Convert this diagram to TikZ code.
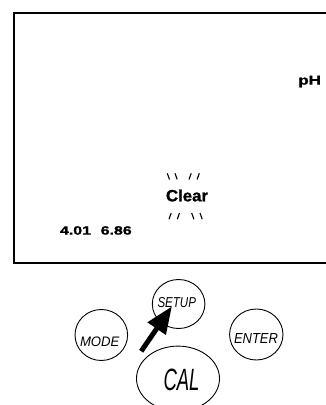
\documentclass[tikz,border=0pt]{standalone}
\usepackage{fontspec}
\setmainfont{Liberation Sans}
\newfontfamily\dispfont[FakeBold=1.2]{Liberation Sans Bold}
\newfontfamily\btnfont{Liberation Sans Italic}
\usepackage{graphicx}
\usetikzlibrary{arrows.meta,shapes.geometric}
\begin{document}
\begin{tikzpicture}[x=1pt,y=-1pt,
  txt/.style={inner sep=0pt, outer sep=0pt, anchor=base west},
  btn/.style={draw, line width=0.9pt, ellipse, inner sep=0pt},
  ray/.style={line width=1.1pt},
  frame/.style={line width=1.9pt}]
\useasboundingbox (0,0) rectangle (326,405);
% display frame (right side runs off the picture)
\draw[frame] (340,13.3) -- (13.7,13.3) -- (13.7,263.3) -- (340,263.3);
% display texts
\node[txt] (ph) at (298.3,84.6) {\resizebox{22.6pt}{9pt}{\dispfont pH}};
\node[txt] (bufa) at (60,234.6) {\resizebox{31pt}{8.4pt}{\dispfont 4.01}};
\node[txt] (bufb) at (100.7,234.6) {\resizebox{31pt}{8.4pt}{\dispfont 6.86}};
\node[txt] (clear) at (166,201.3) {\resizebox{42pt}{11.8pt}{\dispfont Clear}};
% blinking rays
\draw[ray] (167.3,173.3) -- (169.5,179.5);
\draw[ray] (175,173.3) -- (177.2,179.5);
\draw[ray] (191.2,173.3) -- (189,179.5);
\draw[ray] (199.3,173.3) -- (197.1,179.5);
\draw[ray] (171.2,213) -- (169,219.2);
\draw[ray] (179.5,213) -- (177.3,219.2);
\draw[ray] (191.7,213) -- (193.9,219.2);
\draw[ray] (200,213) -- (202.2,219.2);
% buttons
\node[btn, minimum width=52.6pt, minimum height=49pt] (setup) at (178.6,304) {};
\node[btn, minimum width=52.6pt, minimum height=51pt] (mode) at (101.3,335) {};
\node[btn, minimum width=53.4pt, minimum height=51pt] (enter) at (256.3,334.5) {};
\node[btn, minimum width=83pt, minimum height=65pt] (cal) at (178,378.6) {};
\node[txt] (setupl) at (157.5,307) {\resizebox{38.5pt}{10pt}{\btnfont SETUP}};
\node[txt] (model) at (80,346) {\resizebox{39.4pt}{9.6pt}{\btnfont MODE}};
\node[txt] (enterl) at (234,343) {\resizebox{44pt}{10pt}{\btnfont ENTER}};
\node[txt] (call) at (163.5,390.5) {\resizebox{36pt}{21.5pt}{\btnfont CAL}};
% arrow pointing at SETUP
\coordinate (tail) at (141.2,351.2);
\coordinate (tip) at (171.9,306.4);
\draw[line width=5pt, -{Triangle[length=27pt,width=21pt]}] (tail) -- (tip);
\end{tikzpicture}
\end{document}
